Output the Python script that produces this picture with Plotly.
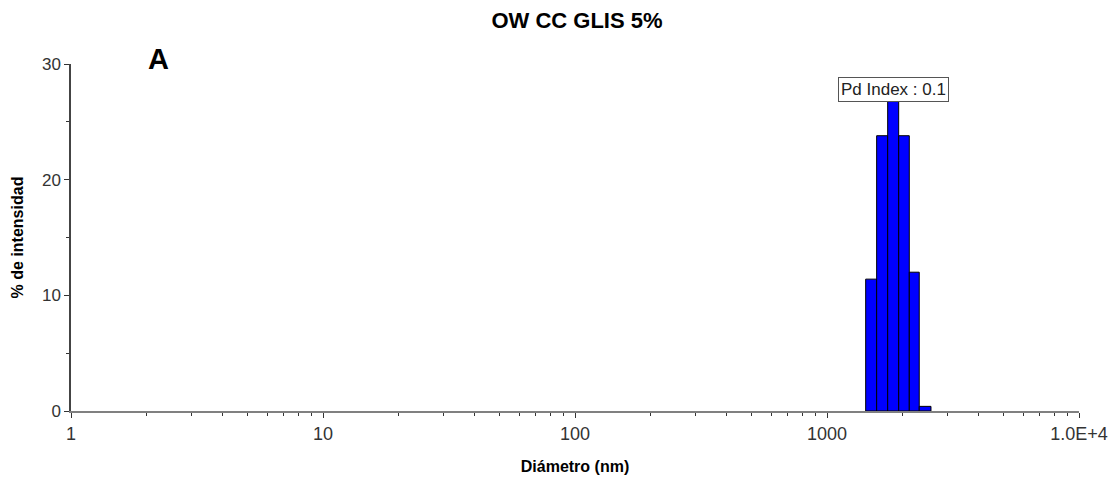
import math
import plotly.graph_objects as go

# Data
bin_edges = [1424, 1574, 1741, 1925, 2121, 2323, 2586]   # diameter (nm) bin edges
intensity = [11.4, 23.8, 27.2, 23.8, 12.0, 0.4]         # % intensity per bin
x_tickvals = [1, 10, 100, 1000, 10000]
x_ticktext = ["1", "10", "100", "1000", "1.0E+4"]
y_tickvals = [0, 10, 20, 30]
title_text = "OW CC GLIS 5%"
pd_label = "Pd Index : 0.1"

fig = go.Figure()
for i, h in enumerate(intensity):
    l, r = bin_edges[i], bin_edges[i + 1]
    fig.add_trace(go.Scatter(
        x=[l, l, r, r, l], y=[0, h, h, 0, 0],
        mode="lines", fill="toself", fillcolor="#0000FF",
        line=dict(color="black", width=1), hoverinfo="skip", showlegend=False))

minor_x = [m * 10 ** d for d in range(0, 4) for m in range(2, 10)]

fig.update_layout(
    width=1115, height=482,
    margin=dict(l=71, r=36, t=64, b=71),
    paper_bgcolor="white", plot_bgcolor="white",
    font=dict(family="Liberation Sans, Arial", color="#222"),
    title=dict(text="<b>" + title_text + "</b>", x=577 / 1115, xanchor="center",
               y=1 - 20 / 482, yanchor="middle", font=dict(size=22, color="black")),
    xaxis=dict(type="log", range=[0, 4], tickvals=x_tickvals, ticktext=x_ticktext,
               automargin=False,
               showgrid=False, zeroline=False, showline=True, linecolor="#808080",
               linewidth=2, ticks="outside", ticklen=5, tickcolor="#333",
               tickfont=dict(size=18, color="#333"),
               minor=dict(tickvals=minor_x, ticks="outside", ticklen=3, tickcolor="#333"),
               title=dict(text="<b>Diámetro (nm)</b>", font=dict(size=16, color="black"), standoff=18)),
    yaxis=dict(range=[0, 30], tickvals=y_tickvals, showgrid=False, zeroline=False,
               automargin=False,
               showline=True, linecolor="#444", linewidth=1.5, ticks="outside", ticklen=5,
               tickcolor="#333", tickfont=dict(size=17, color="#333"),
               minor=dict(dtick=5, ticks="outside", ticklen=3, tickcolor="#333"),
               title=dict(text="<b>% de intensidad</b>", font=dict(size=16, color="black"), standoff=14)),
    annotations=[
        dict(text="<b>A</b>", xref="paper", yref="paper", x=(158 - 71) / 1008,
             y=(411 - 59) / 347, xanchor="center", yanchor="middle", showarrow=False,
             font=dict(size=29, color="black")),
        dict(text=pd_label, xref="x", yref="paper",
             x=math.log10((bin_edges[2] * bin_edges[3]) ** 0.5), y=(411 - 89) / 347,
             xanchor="center", yanchor="middle", showarrow=False,
             font=dict(size=17, color="#222"), bgcolor="white",
             bordercolor="#555", borderwidth=1, borderpad=2),
    ],
)

fig.write_html("out.html")
